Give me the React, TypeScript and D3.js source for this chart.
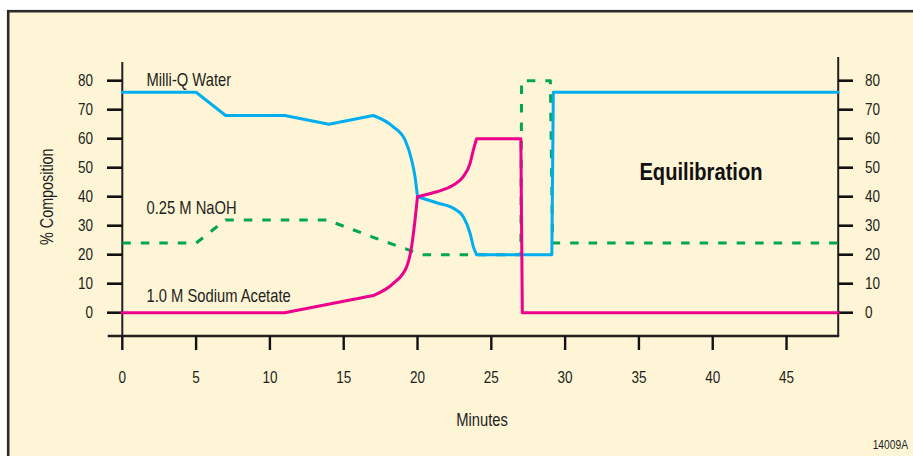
import React from "react";
import * as d3 from "d3";

type P = [number, number];

// ---- data (minutes, % composition) ----
const xTicks = [0, 5, 10, 15, 20, 25, 30, 35, 40, 45];
const yTicks = [0, 10, 20, 30, 40, 50, 60, 70, 80];

const waterSteps: P[] = [[0, 76], [5, 76], [7, 68], [11, 68], [14, 65], [17, 68]];
const waterFall: P[] = [[17, 68], [18.36, 64.1], [19.16, 59.5], [19.6, 52.7], [19.83, 46.9], [20, 40]];
const waterTail: P[] = [[20, 40], [21.3, 37.9], [22.43, 36], [23.1, 33.1], [23.56, 27.4], [23.78, 22.8], [24, 20]];
const waterEnd: P[] = [[24, 20], [29.1, 20], [29.2, 76], [48.5, 76]];

const acetateSteps: P[] = [[0, 0], [11, 0], [17, 5.9]];
const acetateRise: P[] = [[17, 5.9], [18.36, 10.1], [19.27, 15.9], [19.6, 22.8], [19.83, 31.9], [20, 40]];
const acetateTail: P[] = [[20, 40], [21.3, 41.7], [22.43, 44], [23.1, 46.9], [23.56, 51.5], [23.78, 56.1], [24, 60]];
const acetateEnd: P[] = [[24, 60], [27, 60], [27.1, 0], [48.5, 0]];

const naoh: P[] = [[0, 24], [5, 24], [7, 32], [13.85, 32], [17, 26], [20.3, 20], [27, 20], [27.05, 80], [29, 80], [29.15, 24], [48.5, 24]];

const seriesLabels = ["Milli-Q Water", "0.25 M NaOH", "1.0 M Sodium Acetate"];

const FONT = "'Liberation Sans', Arial, sans-serif";
const INK = "#231f20";
const BLUE = "#00aeef";
const MAGENTA = "#ec008c";
const GREEN = "#00a651";

function T(props: {
  x: number; y: number; size: number; anchor?: string; weight?: string; rotate?: number; sx?: number; fill?: string; children: React.ReactNode;
}) {
  const { x, y, size, anchor = "start", weight = "normal", rotate = 0, sx = 0.82, fill = INK, children } = props;
  return (
    <text
      transform={`translate(${x},${y}) rotate(${rotate}) scale(${sx},1)`}
      textAnchor={anchor}
      fontSize={size}
      fontWeight={weight}
      fill={fill}
    >
      {children}
    </text>
  );
}

export default function App() {
  const x = d3.scaleLinear().domain([0, 48.5]).range([122.3, 838.2]);
  const y = d3.scaleLinear().domain([0, 80]).range([312.7, 80.7]);

  const lin = d3.line<P>().x((d) => x(d[0])).y((d) => y(d[1])).curve(d3.curveLinear);
  const smooth = d3.line<P>().x((d) => x(d[0])).y((d) => y(d[1])).curve(d3.curveMonotoneX);

  const waterD = [lin(waterSteps), smooth(waterFall), smooth(waterTail), lin(waterEnd)].join("");
  const acetateD = [lin(acetateSteps), smooth(acetateRise), smooth(acetateTail), lin(acetateEnd)].join("");
  const naohD = lin(naoh) || "";

  const x0 = x(0);
  const x1 = x(48.5);
  const axisY = 336;

  return (
    <svg width={913} height={456} style={{ position: "absolute", left: 0, top: 0, background: "#fff" }} fontFamily={FONT}>
      <rect x={8.2} y={11.2} width={1000} height={1000} fill="#fef5d6" stroke="#2b2b2b" strokeWidth={2.6} />

      {/* axes */}
      <line x1={x0} x2={x0} y1={62} y2={axisY} stroke={INK} strokeWidth={2} />
      <line x1={x1} x2={x1} y1={57} y2={axisY} stroke={INK} strokeWidth={2} />
      <line x1={107.7} x2={x1 + 1} y1={axisY} y2={axisY} stroke={INK} strokeWidth={2.3} />

      {yTicks.map((t) => (
        <g key={"yl" + t}>
          <line x1={107} x2={x0} y1={y(t)} y2={y(t)} stroke="#111" strokeWidth={2.6} />
          <T x={93} y={y(t) + 5.5} size={16.5} anchor="end">{t}</T>
          <line x1={x1} x2={853} y1={y(t)} y2={y(t)} stroke="#111" strokeWidth={2.6} />
          <T x={865} y={y(t) + 5.5} size={16.5}>{t}</T>
        </g>
      ))}
      {xTicks.map((t) => (
        <g key={"xt" + t}>
          <line x1={x(t)} x2={x(t)} y1={axisY} y2={350} stroke="#111" strokeWidth={2.4} />
          <T x={x(t)} y={383.3} size={16.5} anchor="middle">{t}</T>
        </g>
      ))}

      <T x={482} y={426} size={18} anchor="middle">Minutes</T>
      <T x={53.3} y={y(40)} size={17.5} anchor="middle" rotate={-90}>% Composition</T>
      <T x={908} y={449} size={12.5} anchor="end">14009A</T>

      {/* series */}
      <path d={naohD} fill="none" stroke={GREEN} strokeWidth={3} strokeDasharray="8.5,10" strokeLinejoin="round" />
      <path d={waterD} fill="none" stroke={BLUE} strokeWidth={3} strokeLinejoin="round" strokeLinecap="round" />
      <path d={acetateD} fill="none" stroke={MAGENTA} strokeWidth={3} strokeLinejoin="round" strokeLinecap="round" />

      {/* labels */}
      <T x={146.5} y={86} size={18}>{seriesLabels[0]}</T>
      <T x={146.5} y={214} size={18}>{seriesLabels[1]}</T>
      <T x={146.5} y={301.7} size={18}>{seriesLabels[2]}</T>
      <T x={701} y={180} size={24} anchor="middle" weight="bold" sx={0.84} fill="#111">Equilibration</T>
    </svg>
  );
}
